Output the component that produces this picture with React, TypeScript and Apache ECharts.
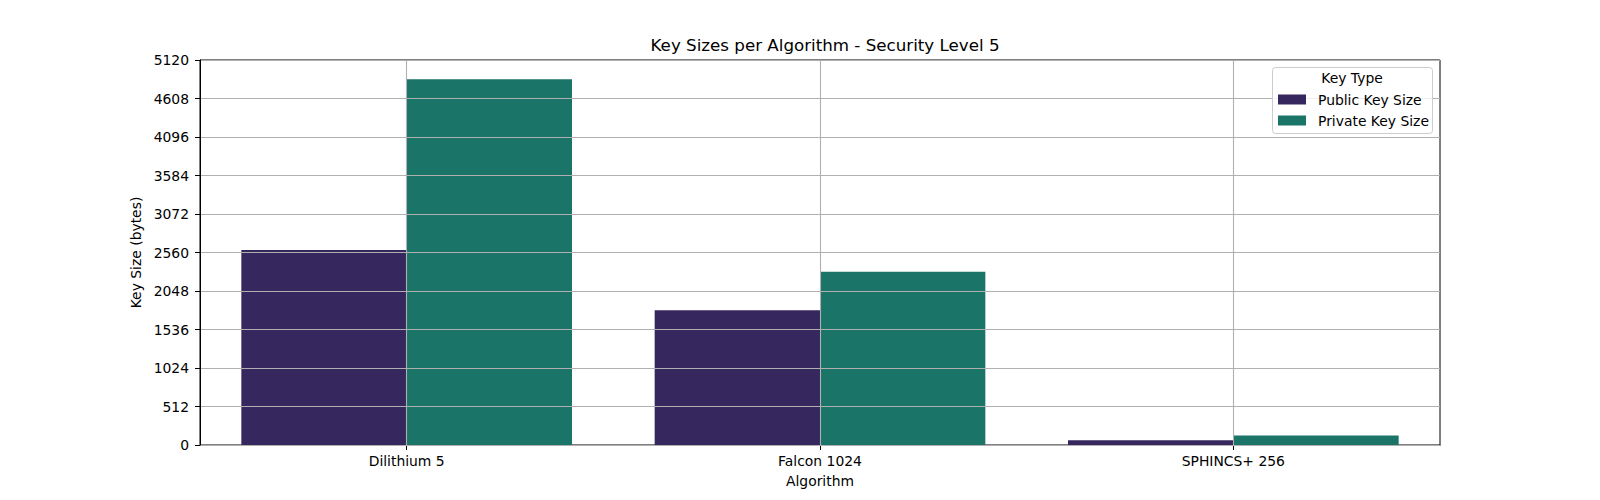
import React, { useEffect, useRef } from "react";
import * as echarts from "echarts";

const categories = ["Dilithium 5", "Falcon 1024", "SPHINCS+ 256"];
const publicKeySizes = [2592, 1793, 64];
const privateKeySizes = [4864, 2305, 128];
const seriesNames = ["Public Key Size", "Private Key Size"];
const yTicks = { min: 0, max: 5120, interval: 512 };

const FONT = "DejaVu Sans";
const GRID = { left: 200, top: 60, width: 1240, height: 385 };
const GRIDLINE = "#b0b0b0";

export default function App() {
  const ref = useRef<HTMLDivElement>(null);
  useEffect(() => {
    if (!ref.current) return;
    const chart = echarts.init(ref.current, undefined, { renderer: "svg" });
    chart.setOption({
      animation: false,
      backgroundColor: "#ffffff",
      textStyle: { fontFamily: FONT },
      title: {
        text: "Key Sizes per Algorithm - Security Level 5",
        left: GRID.left + GRID.width / 2,
        top: 31,
        textAlign: "center",
        textStyle: { fontFamily: FONT, fontSize: 16.7, fontWeight: "normal", color: "#000" },
      },
      grid: {
        left: GRID.left,
        top: GRID.top,
        width: GRID.width,
        height: GRID.height,
        show: true,
        borderColor: "#000",
        borderWidth: 1,
        backgroundColor: "transparent",
      },
      legend: {
        orient: "vertical",
        left: 1278,
        top: 92.5,
        padding: 0,
        itemWidth: 28,
        itemHeight: 10,
        itemGap: 7,
        icon: "rect",
        data: seriesNames,
        textStyle: { fontFamily: FONT, fontSize: 13.9, color: "#000", lineHeight: 14, padding: [0, 0, 0, 7] },
        z: 20,
      },
      graphic: [
        {
          type: "rect",
          z: 15,
          shape: { x: 1272.5, y: 67.5, width: 160, height: 66, r: 3 },
          style: { fill: "rgba(255,255,255,0.8)", stroke: "#cccccc", lineWidth: 1 },
        },
        {
          type: "text",
          z: 16,
          x: 1352,
          y: 78,
          style: {
            text: "Key Type",
            fontFamily: FONT,
            fontSize: 13.9,
            fill: "#000",
            align: "center",
            verticalAlign: "middle",
          },
        },
      ],
      xAxis: {
        type: "category",
        data: categories,
        name: "Algorithm",
        nameLocation: "middle",
        nameGap: 29,
        nameTextStyle: { fontFamily: FONT, fontSize: 13.9, color: "#000" },
        axisLine: { show: true, lineStyle: { color: "#000", width: 1 } },
        axisTick: { show: true, alignWithLabel: true, length: 5, lineStyle: { color: "#000" } },
        axisLabel: { margin: 9, fontFamily: FONT, fontSize: 13.9, color: "#000" },
        splitLine: { show: false },
      },
      yAxis: {
        type: "value",
        min: yTicks.min,
        max: yTicks.max,
        interval: yTicks.interval,
        z: 5,
        name: "Key Size (bytes)",
        nameLocation: "middle",
        nameGap: 40.5,
        nameTextStyle: { fontFamily: FONT, fontSize: 13.9, color: "#000" },
        axisLine: { show: true, lineStyle: { color: "#000", width: 1 } },
        axisTick: { show: true, length: 5, lineStyle: { color: "#000" } },
        axisLabel: {
          margin: 11,
          fontFamily: FONT,
          fontSize: 13.9,
          color: "#000",
          formatter: (v: number) => String(v),
        },
        splitLine: { show: true, lineStyle: { color: GRIDLINE, width: 1.1 } },
      },
      series: [
        {
          name: seriesNames[0],
          type: "bar",
          data: publicKeySizes,
          barGap: "0%",
          barCategoryGap: "20%",
          itemStyle: { color: "#36275f" },
          z: 2,
        },
        {
          name: seriesNames[1],
          type: "bar",
          data: privateKeySizes,
          barGap: "0%",
          barCategoryGap: "20%",
          itemStyle: { color: "#1b7468" },
          z: 2,
        },
        {
          name: "category-gridlines",
          type: "line",
          data: [],
          silent: true,
          z: 4,
          markLine: {
            silent: true,
            symbol: "none",
            animation: false,
            label: { show: false },
            lineStyle: { color: GRIDLINE, width: 1.1, type: "solid" },
            data: categories.map((c) => ({ xAxis: c })),
          },
        },
      ],
    });
    return () => chart.dispose();
  }, []);
  return (
    <div
      ref={ref}
      style={{ position: "fixed", left: 0, top: 0, width: 1600, height: 500 }}
    />
  );
}
